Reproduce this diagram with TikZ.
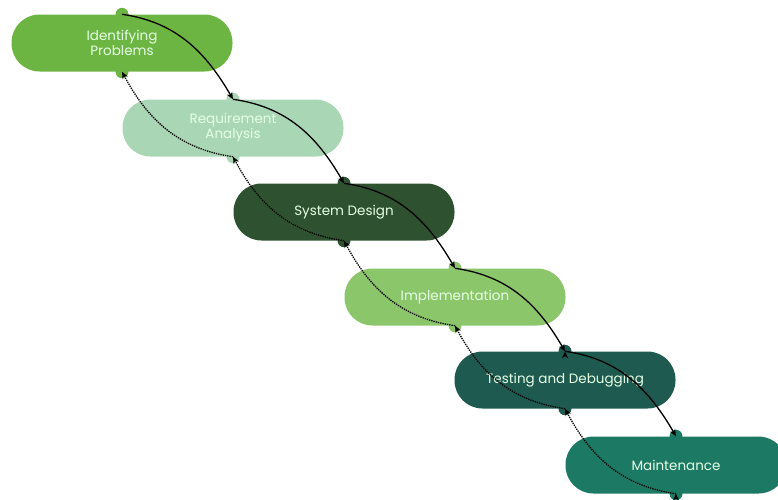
\documentclass[tikz,border=0pt]{standalone}
\usepackage{fontspec}
\setmainfont{Poppins}
\usetikzlibrary{arrows.meta}

\definecolor{idgreen}{HTML}{6DB543}
\definecolor{reqgreen}{HTML}{A9D6B4}
\definecolor{sysgreen}{HTML}{2E5230}
\definecolor{impgreen}{HTML}{8CC66B}
\definecolor{testteal}{HTML}{1E5A4F}
\definecolor{mainteal}{HTML}{1C7A64}

\begin{document}
\begin{tikzpicture}[
        x=1pt,y=-1pt,
        s/.style={rectangle,rounded corners=28pt,minimum height=57pt,minimum width=221pt,
            text=white!90!green,font=\fontsize{13.5}{15}\selectfont,align=center},
        d/.style={circle,inner sep=0pt,minimum size=13pt},
        fw/.style={line width=1.3pt,-{Stealth[length=7pt,width=6pt]}},
        bw/.style={line width=1.3pt,densely dotted,-{Stealth[length=7pt,width=6pt]}}
    ]

    \useasboundingbox (0,0) rectangle (778,499);

    \node[s,fill=idgreen] (ident) at (122,43) {Identifying\\Problems};
    \node[s,fill=reqgreen] (req) at (233,128) {Requirement\\Analysis};
    \node[s,fill=sysgreen] (sys) at (344,212) {System Design};
    \node[s,fill=impgreen] (impl) at (455,297) {Implementation};
    \node[s,fill=testteal] (test) at (565,380) {Testing and Debugging};
    \node[s,fill=mainteal] (maint) at (676,465) {Maintenance};

    % dots on top and bottom of each step
    \foreach \n/\c in {ident/idgreen,req/reqgreen,sys/sysgreen,impl/impgreen,test/testteal,maint/mainteal}{
        \node[d,fill=\c] (\n-t) at (\n.north) {};
        \node[d,fill=\c] (\n-b) at (\n.south) {};
    }

    \draw[fw]
        (ident-t.center) edge[out=-8,in=120] (req-t.center)
        (req-t.center) edge[out=-8,in=120] (sys-t.center)
        (sys-t.center) edge[out=-8,in=120] (impl-t.center)
        (impl-t.center) edge[out=-8,in=120] (test-t.center)
        (test-t.center) edge[out=-8,in=120] (maint-t.center)
        ;

    \draw[bw]
        (req-b.center) edge[out=172,in=-62] (ident-b.center)
        (sys-b.center) edge[out=172,in=-62] (req-b.center)
        (impl-b.center) edge[out=172,in=-62] (sys-b.center)
        (test-b.center) edge[out=172,in=-62] (impl-b.center)
        (maint-b.center) edge[out=172,in=-62] (test-b.center)
        ;

\end{tikzpicture}
\end{document}
